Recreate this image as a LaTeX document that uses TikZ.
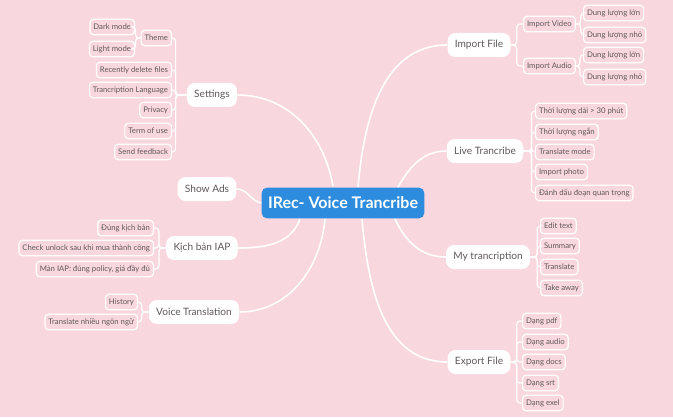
\documentclass[tikz,border=0pt]{standalone}
\usepackage{fontspec}
\setmainfont{Lato}
\definecolor{bg}{HTML}{F9D7DE}
\definecolor{tx}{HTML}{5E585B}
\definecolor{cb}{HTML}{2D8CDE}
\begin{document}
\begin{tikzpicture}[x=0.75pt,y=-0.75pt,
 leaf/.style={draw=white,line width=0.9pt,fill=bg,rounded corners=2.5pt,text=tx,font=\fontsize{5.8}{6.5}\selectfont,inner xsep=2.6pt,inner ysep=0pt,minimum height=11.5pt},
 main/.style={fill=white,rounded corners=6pt,text=tx,font=\fontsize{7.6}{9}\selectfont,inner xsep=5.5pt,minimum height=18pt},
 br/.style={draw=white,line width=0.9pt,rounded corners=2.5pt},
 cn/.style={draw=white,line width=1.2pt}]
\fill[bg] (0,0) rectangle (673,417);
\useasboundingbox (0,0) rectangle (673,417);
\node[fill=cb,text=white,font=\bfseries\fontsize{12}{14}\selectfont,minimum width=122pt,minimum height=23pt,rounded corners=4pt] (c) at (343,203) {IRec- Voice Trancribe};
% main
\node[main] (set) at (212,95) {Settings};
\node[main] (ads) at (207,189) {Show Ads};
\node[main] (iap) at (202,248) {Kịch bản IAP};
\node[main] (vt) at (194,312) {Voice Translation};
\node[main] (imp) at (479,45) {Import File};
\node[main] (live) at (485,151) {Live Trancribe};
\node[main] (my) at (488,257) {My trancription};
\node[main] (exp) at (479,362) {Export File};
% center connectors
\draw[cn] (333,186) to[out=100,in=0] (set.east);
\draw[cn] (c.west) to[out=170,in=0] (ads.east);
\draw[cn] (300,219) to[out=-110,in=0] (iap.east);
\draw[cn] (325,219) to[out=-95,in=0] (vt.east);
\draw[cn] (358,187) to[out=85,in=180] (imp.west);
\draw[cn] (398,187) to[out=60,in=180] (live.west);
\draw[cn] (395,219) to[out=-65,in=180] (my.west);
\draw[cn] (362,219) to[out=-85,in=180] (exp.west);
% settings leaves
\node[leaf,anchor=east] (theme) at (172,38) {Theme};
\node[leaf,anchor=east] (dark) at (135,27) {Dark mode};
\node[leaf,anchor=east] (light) at (135,49) {Light mode};
\node[leaf,anchor=east] (rec) at (172,70) {Recently delete files};
\node[leaf,anchor=east] (lang) at (172,90) {Trancription Language};
\node[leaf,anchor=east] (priv) at (172,110) {Privacy};
\node[leaf,anchor=east] (term) at (172,131) {Term of use};
\node[leaf,anchor=east] (fb) at (172,152) {Send feedback};
\foreach \n in {theme,rec,lang,priv,term,fb} \draw[br] (set.west) -- ++(-11,0) |- (\n.east);
\foreach \n in {dark,light} \draw[br] (theme.west) -- ++(-5,0) |- (\n.east);
% IAP
\node[leaf,anchor=east] (i1) at (154,228) {Đúng kịch bản};
\node[leaf,anchor=east] (i2) at (154,248) {Check unlock sau khi mua thành công};
\node[leaf,anchor=east] (i3) at (154,269) {Màn IAP: đúng policy, giá đầy đủ};
\foreach \n in {i1,i2,i3} \draw[br] (iap.west) -- ++(-7,0) |- (\n.east);
% Voice translation
\node[leaf,anchor=east] (v1) at (138,302) {History};
\node[leaf,anchor=east] (v2) at (138,322) {Translate nhiều ngôn ngữ};
\foreach \n in {v1,v2} \draw[br] (vt.west) -- ++(-7,0) |- (\n.east);
% Import file
\node[leaf,anchor=west] (iv) at (523,24) {Import Video};
\node[leaf,anchor=west] (ia) at (523,66) {Import Audio};
\foreach \n in {iv,ia} \draw[br] (imp.east) -- ++(6,0) |- (\n.west);
\node[leaf,anchor=west] (v1l) at (583,13) {Dung lượng lớn};
\node[leaf,anchor=west] (v1n) at (583,35) {Dung lượng nhỏ};
\node[leaf,anchor=west] (a1l) at (583,55) {Dung lượng lớn};
\node[leaf,anchor=west] (a1n) at (583,77) {Dung lượng nhỏ};
\foreach \n in {v1l,v1n} \draw[br] (iv.east) -- ++(5,0) |- (\n.west);
\foreach \n in {a1l,a1n} \draw[br] (ia.east) -- ++(4,0) |- (\n.west);
% Live
\node[leaf,anchor=west] (l1) at (535,111) {Thời lượng dài > 30 phút};
\node[leaf,anchor=west] (l2) at (535,132) {Thời lượng ngắn};
\node[leaf,anchor=west] (l3) at (535,152) {Translate mode};
\node[leaf,anchor=west] (l4) at (535,172) {Import photo};
\node[leaf,anchor=west] (l5) at (535,193) {Đánh dấu đoạn quan trọng};
\foreach \n in {l1,l2,l3,l4,l5} \draw[br] (live.east) -- ++(8,0) |- (\n.west);
% My trancription
\node[leaf,anchor=west] (m1) at (540,226) {Edit text};
\node[leaf,anchor=west] (m2) at (540,246) {Summary};
\node[leaf,anchor=west] (m3) at (540,267) {Translate};
\node[leaf,anchor=west] (m4) at (540,288) {Take away};
\foreach \n in {m1,m2,m3,m4} \draw[br] (my.east) -- ++(7,0) |- (\n.west);
% Export
\node[leaf,anchor=west] (e1) at (522,321) {Dạng pdf};
\node[leaf,anchor=west] (e2) at (522,342) {Dạng audio};
\node[leaf,anchor=west] (e3) at (522,362) {Dạng docs};
\node[leaf,anchor=west] (e4) at (522,383) {Dạng srt};
\node[leaf,anchor=west] (e5) at (522,403) {Dạng exel};
\foreach \n in {e1,e2,e3,e4,e5} \draw[br] (exp.east) -- ++(6,0) |- (\n.west);
\end{tikzpicture}
\end{document}
